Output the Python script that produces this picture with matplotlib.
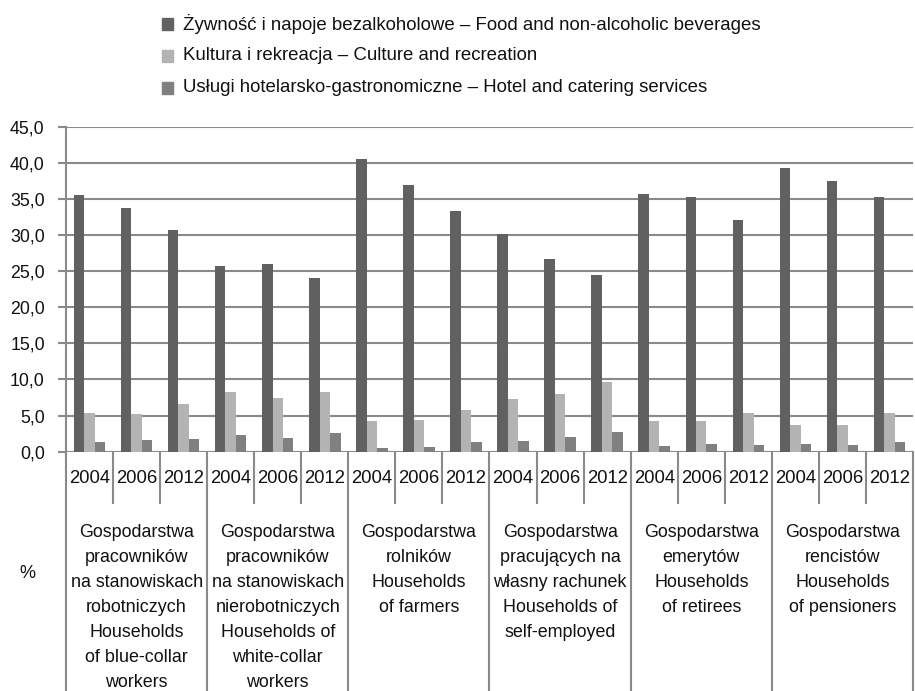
import matplotlib
matplotlib.use("Agg")
import matplotlib.pyplot as plt
import matplotlib.transforms as mtransforms
from matplotlib.patches import Rectangle
from matplotlib.ticker import FuncFormatter, MultipleLocator
import numpy as np

plt.rcParams['font.family'] = ['Liberation Sans', 'DejaVu Sans']

years = ["2004", "2006", "2012"]
groups = [
    "Gospodarstwa\npracowników\nna stanowiskach\nrobotniczych\nHouseholds\nof blue-collar\nworkers",
    "Gospodarstwa\npracowników\nna stanowiskach\nnierobotniczych\nHouseholds of\nwhite-collar\nworkers",
    "Gospodarstwa\nrolników\nHouseholds\nof farmers",
    "Gospodarstwa\npracujących na\nwłasny rachunek\nHouseholds of\nself-employed",
    "Gospodarstwa\nemerytów\nHouseholds\nof retirees",
    "Gospodarstwa\nrencistów\nHouseholds\nof pensioners",
]
series_names = [
    "Żywność i napoje bezalkoholowe – Food and non-alcoholic beverages",
    "Kultura i rekreacja – Culture and recreation",
    "Usługi hotelarsko-gastronomiczne – Hotel and catering services",
]
food = [35.6, 33.7, 30.7, 25.7, 26.0, 24.1, 40.5, 36.9, 33.3,
        30.1, 26.7, 24.5, 35.7, 35.3, 32.1, 39.3, 37.5, 35.2]
culture = [5.4, 5.2, 6.6, 8.3, 7.4, 8.3, 4.2, 4.4, 5.8,
           7.3, 8.0, 9.7, 4.3, 4.2, 5.3, 3.7, 3.7, 5.4]
hotel = [1.3, 1.6, 1.8, 2.3, 1.9, 2.6, 0.5, 0.7, 1.3,
         1.5, 2.1, 2.7, 0.8, 1.0, 0.9, 1.0, 0.9, 1.3]
colors = ["#616161", "#b3b3b3", "#808080"]
grid_c = "#8a8a8a"
txt_c = "#111111"

W, H = 915, 691
fig = plt.figure(figsize=(W/100, H/100), dpi=100)
ax = fig.add_axes([66/W, 1-451.7/H, (913-66)/W, 325/H])

n = len(food)
x = np.arange(n)
w = 0.223
for i, (vals, c, lab) in enumerate(zip([food, culture, hotel], colors, series_names)):
    ax.bar(x + (i-1)*w, vals, width=w, color=c, label=lab, zorder=3)

ax.set_xlim(-0.5, n-0.5)
ax.set_ylim(0, 45)
ax.yaxis.set_major_locator(MultipleLocator(5))
ax.yaxis.set_major_formatter(FuncFormatter(lambda v, p: f"{v:.1f}".replace(".", ",")))
ax.yaxis.grid(True, color=grid_c, linewidth=1.5, zorder=0)
ax.set_axisbelow(True)
for s in ["top", "right", "bottom"]:
    ax.spines[s].set_visible(False)
ax.spines["left"].set_color(grid_c)
ax.spines["left"].set_linewidth(1.5)
ax.tick_params(axis="y", length=5.8, width=1.5, color=grid_c, pad=9.5, labelsize=12.8, labelcolor=txt_c)
ax.set_xticks([])

trans = mtransforms.blended_transform_factory(ax.transData, ax.transAxes)
for k in range(n+1):
    xb = k - 0.5
    bottom = -0.75 if k % 3 == 0 else -0.158
    ax.plot([xb, xb], [0, bottom], transform=trans, color=grid_c, lw=1.5, clip_on=False)

for k in range(n):
    ax.text(k, -0.081, years[k % 3], transform=trans, ha="center", va="center",
            fontsize=13.3, color=txt_c)

line_step = 25/325
for g, lab in enumerate(groups):
    xc = g*3 + 1
    for j, line in enumerate(lab.split("\n")):
        ax.text(xc, -0.248 - j*line_step, line, transform=trans, ha="center", va="center",
                fontsize=12.9, color=txt_c)

fig.text(27/W, 1-573/H, "%", ha="center", va="center", fontsize=13, color=txt_c)

# legend (drawn in figure pixel space)
for i, (name, c) in enumerate(zip(series_names, colors)):
    yc = 24 + 32*i
    fig.patches.append(Rectangle((161.7/W, 1-(yc+5.5)/H), 11/W, 11/H,
                                 transform=fig.transFigure, color=c, figure=fig))
    fig.text(183/W, 1-yc/H, name, ha="left", va="center", fontsize=13.4, color=txt_c)

fig.savefig("out.png", dpi=100)
